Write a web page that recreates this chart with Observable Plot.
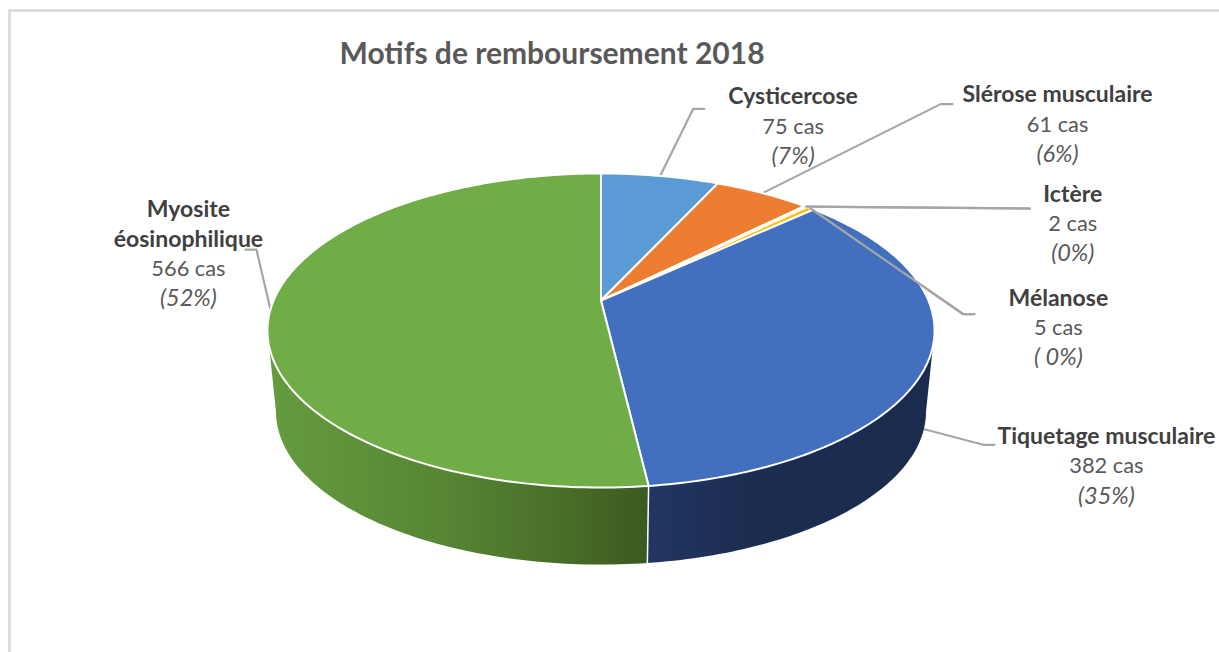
<!DOCTYPE html>
<html>
<head>
<meta charset="utf-8">
<style>html,body{margin:0;padding:0;background:#fff}svg{display:block}</style>
<script src="https://cdn.jsdelivr.net/npm/d3@7"></script>
<script src="https://cdn.jsdelivr.net/npm/@observablehq/plot@0.6"></script>
</head>
<body>
<div id="chart"></div>
<script>
const chartTitle = "Motifs de remboursement 2018";
const categories = ["Cysticercose", "Slérose musculaire", "Ictère", "Mélanose", "Tiquetage musculaire", "Myosite éosinophilique"];
const cases = [75, 61, 2, 5, 382, 566];
const caseLabels = ["75 cas", "61 cas", "2 cas", "5 cas", "382 cas", "566 cas"];
const shareLabels = ["(7%)", "(6%)", "(0%)", "( 0%)", "(35%)", "(52%)"];
const topColors = ["#5b9bd5", "#ed7d31", "#a5a5a5", "#ffc000", "#4270bf", "#70ad47"];
const nameLines = [["Cysticercose"], ["Slérose musculaire"], ["Ictère"], ["Mélanose"], ["Tiquetage musculaire"], ["Myosite", "éosinophilique"]];

// Disc geometry: a circle seen in perspective.
const W = 1219, H = 652;
const disc = {cx: 600.5, cy: 300, a: 151.3, b: 327.4, k: 0.191};
const base = {cy: 381.8, scale: 0.9745};
const project = (deg, face) => {
  const t = deg * Math.PI / 180, u = Math.sin(t), v = -Math.cos(t), d = 1 - disc.k * v;
  const s = face === "base" ? base.scale : 1, cy = face === "base" ? base.cy : disc.cy;
  return {x: disc.cx + s * disc.b * u / d, y: cy + s * disc.a * v / d};
};
// Angles at which the rim turns away from the viewer.
const rimRight = Math.acos(-disc.k) * 180 / Math.PI, rimLeft = 360 - rimRight;

const total = d3.sum(cases);
let running = 0;
const slices = categories.map((name, i) => {
  const start = running / total * 360;
  running += cases[i];
  return {name, i, start, end: running / total * 360, mid: (start + running / total * 360) / 2};
});

const angles = (s, e) => { const n = Math.max(2, Math.ceil((e - s) / 1)); return d3.range(n + 1).map(j => s + (e - s) * j / n); };

const topFace = slices.flatMap(s => [
  {slice: s.name, x: disc.cx, y: disc.cy, color: topColors[s.i]},
  ...angles(s.start, s.end).map(a => ({slice: s.name, ...project(a), color: topColors[s.i]}))
]);
const sideFill = {"Tiquetage musculaire": "url(#sideBlue)", "Myosite éosinophilique": "url(#sideGreen)"};
const sideFace = slices.filter(s => sideFill[s.name]).flatMap(s => {
  const a0 = Math.max(s.start, rimRight), a1 = Math.min(s.end, rimLeft);
  return [
    ...angles(a0, a1).map(a => ({slice: s.name, ...project(a)})),
    ...angles(a0, a1).reverse().map(a => ({slice: s.name, ...project(a, "base")}))
  ];
});
// Seam between the two visible side walls, at the Tiquetage / Myosite boundary.
const seamAngle = slices[4].end;
const seam = [project(seamAngle), project(seamAngle, "base")];

// Leader lines: slice anchor, then elbow and end given relative to it.
const leaderOffsets = [
  [[33, -67], [44, -67]],
  [[178, -89], [190, -89]],
  [[224, 2]],
  [[153, 106], [164, 106]],
  [[61, 16], [72, 16]],
  [[-14, -60], [-25, -60]]
];
const anchors = slices.map(s => {
  if (s.name === "Tiquetage musculaire") {
    const p = project(s.mid), q = project(s.mid, "base");
    return {x: p.x + (q.x - p.x) * 0.9, y: p.y + (q.y - p.y) * 0.9};
  }
  return project(s.mid);
});
const leaders = leaderOffsets.flatMap((via, i) => [[0, 0], ...via].map(o => ({i, x: anchors[i].x + o[0], y: anchors[i].y + o[1]})));

// Label blocks: centre and first row, relative to the slice anchor.
const labelOffsets = [[133, -79], [295, -98], [267, -12], [248, 90], [184, 8], [-82, -100]];
const lineGap = 29.6;
const rows = [];
slices.forEach((s, i) => {
  const lx = anchors[i].x + labelOffsets[i][0];
  let ly = anchors[i].y + labelOffsets[i][1];
  nameLines[i].forEach(t => { rows.push({x: lx, y: ly, t, kind: "name"}); ly += lineGap; });
  rows.push({x: lx, y: ly, t: caseLabels[i], kind: "cases"}); ly += lineGap;
  rows.push({x: lx, y: ly, t: shareLabels[i], kind: "share"});
});

const textColor = "#404040", mutedColor = "#595959";
const chart = Plot.plot({
  width: W, height: H, margin: 0,
  x: {domain: [0, W], range: [0, W], axis: null},
  y: {domain: [0, H], range: [0, H], axis: null},
  style: {fontFamily: "Lato, sans-serif", background: "#fff"},
  marks: [
    Plot.rect([{}], {x1: 9.5, x2: 1300, y1: 10.5, y2: 700, fill: "none", stroke: "#dcdcdc", strokeWidth: 3, clip: true}),
    Plot.line(leaders, {x: "x", y: "y", z: "i", stroke: "#a6a6a6", strokeWidth: 2.2, curve: "linear"}),
    Plot.line(sideFace, {x: "x", y: "y", z: "slice", fill: d => sideFill[d.slice], stroke: null, curve: "linear-closed"}),
    Plot.line(seam, {x: "x", y: "y", stroke: "#fff", strokeWidth: 1.5}),
    Plot.line(topFace, {x: "x", y: "y", z: "slice", fill: "color", stroke: "#fff", strokeWidth: 2, strokeLinejoin: "round", curve: "linear-closed"}),
    Plot.line(leaders.filter(d => d.i === 2 || d.i === 3), {x: "x", y: "y", z: "i", stroke: "#a6a6a6", strokeWidth: 2.2, curve: "linear"}),
    Plot.text([chartTitle], {frameAnchor: "top-left", text: d => d, dx: 339, dy: 42, textAnchor: "start", lineAnchor: "top", fontSize: 30, fontWeight: 700, fill: mutedColor}),
    Plot.text(rows.filter(d => d.kind === "name"), {x: "x", y: "y", text: "t", fontSize: 23, fontWeight: 700, fill: textColor}),
    Plot.text(rows.filter(d => d.kind === "cases"), {x: "x", y: "y", text: "t", fontSize: 21.8, fill: mutedColor}),
    Plot.text(rows.filter(d => d.kind === "share"), {x: "x", y: "y", text: "t", fontSize: 23.5, fontStyle: "italic", fill: mutedColor})
  ],
  color: {type: "identity"}
});

// Shading of the side walls.
const defs = d3.select(chart).insert("defs", ":first-child");
const addGradient = (id, stops) => {
  const g = defs.append("linearGradient").attr("id", id).attr("x1", 0).attr("x2", 1).attr("y1", 0).attr("y2", 0);
  stops.forEach(([o, c]) => g.append("stop").attr("offset", o).attr("stop-color", c));
};
addGradient("sideGreen", [[0, "#659c3f"], [0.45, "#578635"], [0.75, "#4a7029"], [1, "#3a5a20"]]);
addGradient("sideBlue", [[0, "#233662"], [0.35, "#1b2d50"], [1, "#1a2b4e"]]);
document.getElementById("chart").appendChild(chart);
</script>
</body>
</html>
